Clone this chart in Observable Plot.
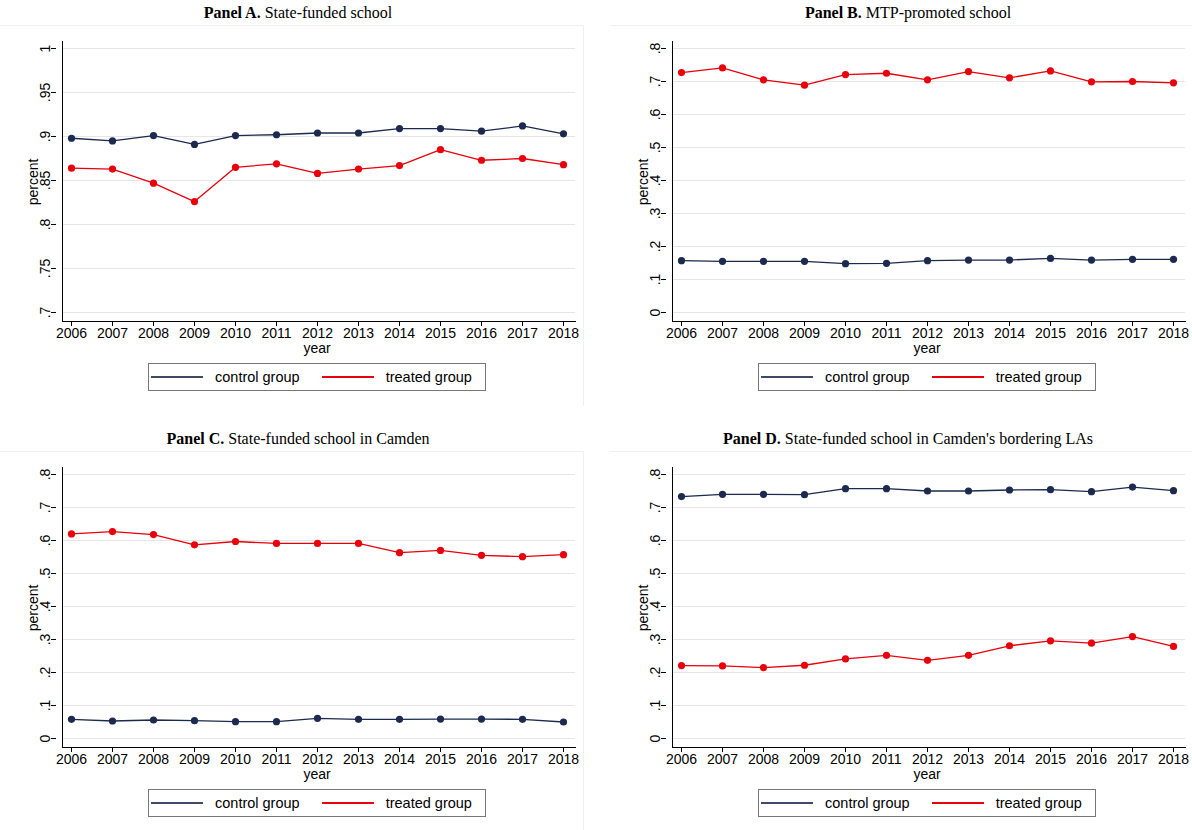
<!DOCTYPE html>
<html><head><meta charset="utf-8">
<script src="https://cdn.jsdelivr.net/npm/d3@7"></script>
<script src="https://cdn.jsdelivr.net/npm/@observablehq/plot@0.6"></script>
<style>
body{margin:0;background:#fff;font-family:"Liberation Sans",Arial,sans-serif}
.panel{position:absolute;width:596px;height:415px}
.title{position:absolute;top:4px;width:100%;text-align:center;font-family:"Liberation Serif","Times New Roman",serif;font-size:16px}
.plotbox{position:absolute;top:25px;left:0;border-top:1px solid #f0f0f0;border-right:1px solid #f0f0f0;width:583px;height:380px}
.ylab{position:absolute;left:10px;top:148px;transform:rotate(-90deg);font-size:14px}
.xlab{position:absolute;top:314px;font-size:14px}
.legend{position:absolute;top:337px;height:28px;border:1px solid #777;display:flex;align-items:center;font-size:14.5px;box-sizing:border-box;white-space:nowrap}
.legend span.sw{display:inline-block;width:52px;height:0;border-top:2px solid;margin:0 12px 0 2px}
svg{position:absolute;top:0;left:0}
</style></head>
<body>
<script>
const years = [2006,2007,2008,2009,2010,2011,2012,2013,2014,2015,2016,2017,2018];
const aControl = [.898,.895,.901,.891,.901,.902,.904,.904,.909,.909,.906,.912,.903];
const aTreated = [.864,.863,.847,.826,.865,.869,.858,.863,.867,.885,.873,.875,.868];
const bControl = [.157,.155,.155,.155,.148,.149,.157,.159,.159,.164,.159,.161,.161];
const bTreated = [.727,.741,.705,.689,.721,.725,.705,.730,.711,.732,.699,.700,.696];
const cControl = [.058,.053,.056,.054,.051,.051,.061,.058,.058,.059,.059,.058,.050];
const cTreated = [.620,.627,.618,.587,.597,.591,.591,.591,.563,.570,.555,.551,.557];
const dControl = [.733,.740,.740,.739,.757,.757,.750,.750,.753,.754,.748,.762,.751];
const dTreated = [.221,.220,.215,.222,.241,.252,.237,.252,.281,.296,.289,.309,.279];
const aTicks = [.7,.75,.8,.85,.9,.95,1];
const bTicks = [0,.1,.2,.3,.4,.5,.6,.7,.8];
const navy = "#1b2a4e", red = "#e8000b";

const fmt = v => v === 0 ? "0" : v === 1 ? "1" : String(v).replace(/^0/, "");

function panel(left, top, bold, rest, control, treated, ticks, legendX) {
  const div = document.createElement("div");
  div.className = "panel";
  div.style.left = left + "px"; div.style.top = top + "px";
  div.innerHTML = `<div class="title"><b>${bold}</b> ${rest}</div><div class="plotbox"></div>`;
  const rows = years.map((y, i) => ({year: y, c: control[i], t: treated[i]}));
  const chart = Plot.plot({
    width: 583, height: 320,
    marginTop: 15, marginBottom: 25, marginLeft: 62, marginRight: 8,
    insetTop: 7, insetBottom: 9, insetLeft: 9, insetRight: 12,
    style: {fontFamily: "Liberation Sans, Arial, sans-serif", fontSize: "14px", color: "#000", background: "transparent"},
    x: {domain: [2006, 2018]},
    y: {domain: [ticks[0], ticks[ticks.length - 1]]},
    marks: [
      Plot.gridY(ticks, {stroke: "#e6e6e6", strokeOpacity: 1}),
      Plot.axisY(ticks, {tickFormat: fmt, tickRotate: -90, tickSize: 5, tickPadding: 2, label: null, textAnchor: "middle", dx: -6}),
      Plot.axisX(years, {tickFormat: d => String(d), tickSize: 5, tickPadding: 2, label: null}),
      Plot.frame({anchor: "left"}),
      Plot.frame({anchor: "bottom"}),
      Plot.lineY(rows, {x: "year", y: "c", stroke: navy, strokeWidth: 1.3}),
      Plot.dot(rows, {x: "year", y: "c", fill: navy, r: 3.6}),
      Plot.lineY(rows, {x: "year", y: "t", stroke: red, strokeWidth: 1.3}),
      Plot.dot(rows, {x: "year", y: "t", fill: red, r: 3.6})
    ]
  });
  const box = div.querySelector(".plotbox");
  box.appendChild(chart);
  box.insertAdjacentHTML("beforeend",
    `<div class="ylab">percent</div>
     <div class="xlab" style="left:0;width:634px;text-align:center">year</div>
     <div class="legend" style="left:${legendX}px;width:338px">
       <span class="sw" style="border-color:#3c4a6b"></span>control group
       <span class="sw" style="border-color:${red};margin-left:22px"></span>treated group</div>`);
  document.body.appendChild(div);
}

panel(0, 0, "Panel A.", "State-funded school", aControl, aTreated, aTicks, 148);
panel(610, 0, "Panel B.", "MTP-promoted school", bControl, bTreated, bTicks, 148);
panel(0, 426, "Panel C.", "State-funded school in Camden", cControl, cTreated, bTicks, 148);
panel(610, 426, "Panel D.", "State-funded school in Camden's bordering LAs", dControl, dTreated, bTicks, 148);
</script>
</body></html>
